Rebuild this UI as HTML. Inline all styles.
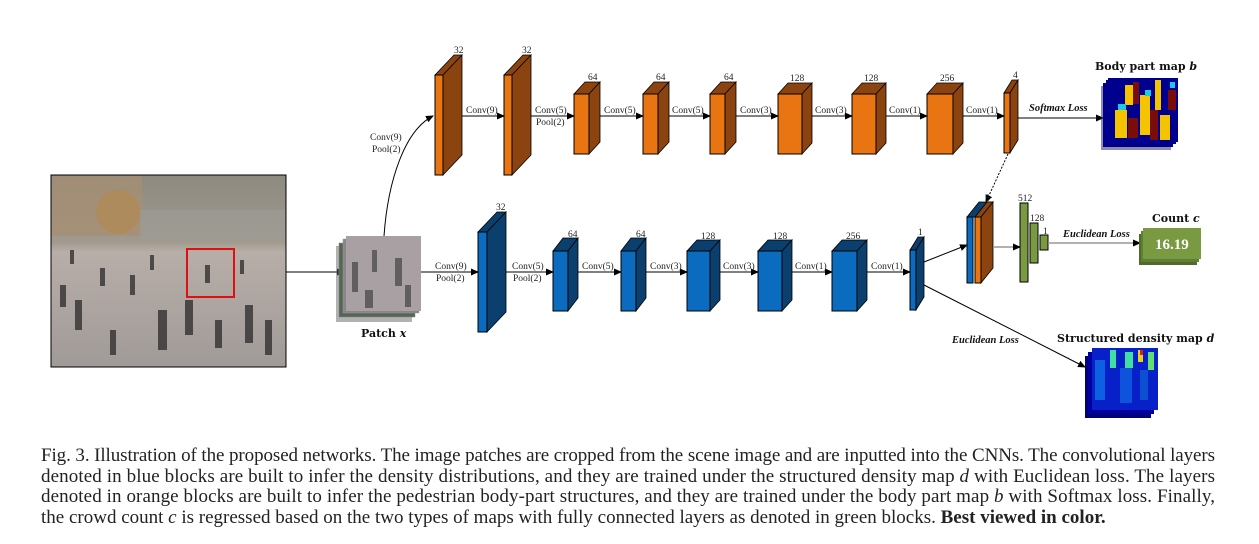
<!DOCTYPE html>
<html><head><meta charset="utf-8"><style>
html,body{margin:0;padding:0;background:#fff;}
svg{display:block;}
.t{font-family:"Liberation Serif",serif;font-size:9.5px;fill:#222;}
.n{font-family:"Liberation Serif",serif;font-size:9.5px;fill:#222;}
.b{font-family:"DejaVu Serif","Liberation Serif",serif;font-weight:bold;font-size:11px;fill:#111;}
.i{font-family:"Liberation Serif",serif;font-weight:bold;font-style:italic;font-size:10.5px;fill:#111;}
.cap{font-family:"Liberation Serif",serif;font-size:19px;fill:#222;}
.of{fill:#E87511;stroke:#000;stroke-width:1}
.od{fill:#8B4410;stroke:#000;stroke-width:0.8}
.bf{fill:#0A6BBF;stroke:#000;stroke-width:1}
.bd{fill:#0A3F6E;stroke:#000;stroke-width:0.8}
.g{fill:#7A9A42;stroke:#000;stroke-width:1}
</style></head><body>
<svg width="1259" height="544" viewBox="0 0 1259 544" xmlns="http://www.w3.org/2000/svg">
<defs>
<marker id="a" markerWidth="8" markerHeight="8" refX="7" refY="4" orient="auto" markerUnits="userSpaceOnUse"><path d="M0,0.5 L8,4 L0,7.5 Z" fill="#000"/></marker>
<linearGradient id="scene" x1="0" y1="0" x2="0" y2="1"><stop offset="0" stop-color="#8d8a80"/><stop offset="0.35" stop-color="#a19a8e"/><stop offset="0.4" stop-color="#b8aea8"/><stop offset="1" stop-color="#a09a98"/></linearGradient>
</defs>

<rect x="51" y="175" width="235" height="192" fill="url(#scene)" stroke="#000"/>
<rect x="52" y="176" width="90" height="60" fill="#a88f70" opacity="0.7"/>
<circle cx="118" cy="212" r="22" fill="#b08a55" opacity="0.8"/>
<rect x="140" y="210" width="145" height="30" fill="#9c9c98" opacity="0.6"/>
<g fill="#2a2a2a" opacity="0.75">
<rect x="60" y="285" width="6" height="22"/><rect x="75" y="300" width="7" height="30"/><rect x="100" y="268" width="5" height="18"/><rect x="130" y="275" width="5" height="20"/><rect x="158" y="310" width="9" height="40"/><rect x="185" y="300" width="8" height="35"/><rect x="215" y="320" width="7" height="28"/><rect x="245" y="305" width="8" height="38"/><rect x="265" y="320" width="7" height="35"/><rect x="70" y="250" width="4" height="14"/><rect x="150" y="255" width="4" height="15"/><rect x="205" y="265" width="5" height="18"/><rect x="240" y="260" width="4" height="14"/><rect x="110" y="330" width="6" height="25"/>
</g>
<rect x="187" y="249" width="47" height="48" fill="none" stroke="#e01010" stroke-width="2"/>
<line x1="286" y1="272" x2="344" y2="272" stroke="#000" marker-end="url(#a)"/>

<rect x="336" y="246" width="76" height="76" fill="#666" opacity="0.5"/>
<rect x="339" y="243" width="76" height="74" fill="#556655" stroke="#888" stroke-width="0.5"/>
<rect x="343" y="239" width="76" height="74" fill="#8a8588" stroke="#999" stroke-width="0.5"/>
<rect x="346" y="236" width="75" height="75" fill="#a8a0a2"/>
<g fill="#333" opacity="0.6"><rect x="352" y="262" width="6" height="30"/><rect x="372" y="250" width="5" height="22"/><rect x="395" y="258" width="7" height="28"/><rect x="365" y="290" width="8" height="18"/><rect x="405" y="285" width="6" height="22"/></g>
<text class="b" x="361" y="337" font-size="11">Patch <tspan font-style="italic">x</tspan></text>
<path d="M384,236 C388,180 405,130 433,116" fill="none" stroke="#000" marker-end="url(#a)"/>
<text class="t" x="370" y="140">Conv(9)</text><text class="t" x="372" y="152">Pool(2)</text>

<g>
<polygon class="od" points="435,75 454,55 462,55 443,75"/><polygon class="od" points="443,75 462,55 462,155 443,175"/><rect class="of" x="435" y="75" width="8" height="100"/>
<polygon class="od" points="504,75 523,55 531,55 512,75"/><polygon class="od" points="512,75 531,55 531,155 512,175"/><rect class="of" x="504" y="75" width="8" height="100"/>
<polygon class="od" points="574,94 585,82 600,82 589,94"/><polygon class="od" points="589,94 600,82 600,142 589,154"/><rect class="of" x="574" y="94" width="15" height="60"/>
<polygon class="od" points="643,94 654,82 669,82 658,94"/><polygon class="od" points="658,94 669,82 669,142 658,154"/><rect class="of" x="643" y="94" width="15" height="60"/>
<polygon class="od" points="710,94 721,82 736,82 725,94"/><polygon class="od" points="725,94 736,82 736,142 725,154"/><rect class="of" x="710" y="94" width="15" height="60"/>
<polygon class="od" points="778,94 788,83 812,83 802,94"/><polygon class="od" points="802,94 812,83 812,143 802,154"/><rect class="of" x="778" y="94" width="24" height="60"/>
<polygon class="od" points="852,94 862,83 886,83 876,94"/><polygon class="od" points="876,94 886,83 886,143 876,154"/><rect class="of" x="852" y="94" width="24" height="60"/>
<polygon class="od" points="927,94 937,83 963,83 953,94"/><polygon class="od" points="953,94 963,83 963,143 953,154"/><rect class="of" x="927" y="94" width="26" height="60"/>
<polygon class="od" points="1004,93 1012,80 1018,80 1010,93"/><polygon class="od" points="1010,93 1018,80 1018,140 1010,153"/><rect class="of" x="1004" y="93" width="6" height="60"/>
</g>
<g class="n"><text x="454" y="53">32</text><text x="522" y="53">32</text><text x="588" y="80">64</text><text x="656" y="80">64</text><text x="724" y="80">64</text><text x="790" y="81">128</text><text x="864" y="81">128</text><text x="940" y="81">256</text><text x="1013" y="78">4</text></g>
<g stroke="#000" marker-end="url(#a)">
<line x1="462" y1="116" x2="504" y2="116"/><line x1="531" y1="116" x2="574" y2="116"/><line x1="600" y1="116" x2="643" y2="116"/><line x1="669" y1="116" x2="710" y2="116"/><line x1="736" y1="116" x2="778" y2="116"/><line x1="812" y1="116" x2="852" y2="116"/><line x1="886" y1="116" x2="927" y2="116"/><line x1="963" y1="116" x2="1004" y2="116"/><line x1="1018" y1="118" x2="1103" y2="118"/>
</g>
<g class="t"><text x="466" y="113">Conv(9)</text><text x="535" y="113">Conv(5)</text><text x="536" y="125">Pool(2)</text><text x="604" y="113">Conv(5)</text><text x="672" y="113">Conv(5)</text><text x="740" y="113">Conv(3)</text><text x="815" y="113">Conv(3)</text><text x="889" y="113">Conv(1)</text><text x="966" y="113">Conv(1)</text></g>
<text class="i" x="1029" y="111">Softmax Loss</text>

<rect x="1101" y="86" width="70" height="64" fill="#1a1a6a" opacity="0.5"/>
<rect x="1103" y="83" width="70" height="64" fill="#000088"/>
<rect x="1106" y="80" width="70" height="64" fill="#000090"/>
<rect x="1108" y="78" width="70" height="64" fill="#00008f"/>
<g>
<rect x="1125" y="85" width="8" height="20" fill="#f5c400"/><rect x="1140" y="95" width="10" height="40" fill="#f5c400"/><rect x="1155" y="80" width="6" height="30" fill="#f5c400"/><rect x="1115" y="110" width="12" height="28" fill="#f5c400"/><rect x="1160" y="115" width="10" height="25" fill="#f5c400"/>
<rect x="1133" y="82" width="6" height="22" fill="#7a0c0c"/><rect x="1150" y="110" width="8" height="30" fill="#7a0c0c"/><rect x="1128" y="118" width="10" height="20" fill="#7a0c0c"/><rect x="1168" y="90" width="8" height="20" fill="#7a0c0c"/>
<rect x="1118" y="104" width="8" height="6" fill="#20c8e8"/><rect x="1145" y="90" width="6" height="6" fill="#20c8e8"/><rect x="1170" y="82" width="5" height="6" fill="#20c8e8"/>
</g>
<text class="b" x="1095" y="70">Body part map <tspan font-style="italic">b</tspan></text>

<g>
<polygon class="bd" points="478,232 497,212 506,212 487,232"/><polygon class="bd" points="487,232 506,212 506,312 487,332"/><rect class="bf" x="478" y="232" width="9" height="100"/>
<polygon class="bd" points="553,251 563,238 578,238 568,251"/><polygon class="bd" points="568,251 578,238 578,298 568,311"/><rect class="bf" x="553" y="251" width="15" height="60"/>
<polygon class="bd" points="621,251 631,238 646,238 636,251"/><polygon class="bd" points="636,251 646,238 646,298 636,311"/><rect class="bf" x="621" y="251" width="15" height="60"/>
<polygon class="bd" points="687,251 697,240 720,240 710,251"/><polygon class="bd" points="710,251 720,240 720,300 710,311"/><rect class="bf" x="687" y="251" width="23" height="60"/>
<polygon class="bd" points="758,251 768,240 792,240 782,251"/><polygon class="bd" points="782,251 792,240 792,300 782,311"/><rect class="bf" x="758" y="251" width="24" height="60"/>
<polygon class="bd" points="832,251 842,240 867,240 857,251"/><polygon class="bd" points="857,251 867,240 867,300 857,311"/><rect class="bf" x="832" y="251" width="25" height="60"/>
<polygon class="bd" points="910,250 918,237 924,237 916,250"/><polygon class="bd" points="916,250 924,237 924,297 916,310"/><rect class="bf" x="910" y="250" width="6" height="60"/>
</g>
<g class="n"><text x="496" y="210">32</text><text x="568" y="237">64</text><text x="636" y="237">64</text><text x="701" y="239">128</text><text x="773" y="239">128</text><text x="846" y="239">256</text><text x="918" y="235">1</text></g>
<g stroke="#000" marker-end="url(#a)">
<line x1="421" y1="272" x2="478" y2="272"/><line x1="506" y1="272" x2="553" y2="272"/><line x1="578" y1="272" x2="621" y2="272"/><line x1="646" y1="272" x2="687" y2="272"/><line x1="720" y1="272" x2="758" y2="272"/><line x1="792" y1="272" x2="832" y2="272"/><line x1="867" y1="272" x2="910" y2="272"/>
<line x1="924" y1="262" x2="967" y2="245"/>
<line x1="924" y1="285" x2="1085" y2="367"/>
<line x1="1008" y1="154" x2="986" y2="202" stroke-dasharray="2,1.5"/>
</g>
<g class="t"><text x="435" y="269">Conv(9)</text><text x="436" y="281">Pool(2)</text><text x="512" y="269">Conv(5)</text><text x="513" y="281">Pool(2)</text><text x="582" y="269">Conv(5)</text><text x="650" y="269">Conv(3)</text><text x="723" y="269">Conv(3)</text><text x="795" y="269">Conv(1)</text><text x="871" y="269">Conv(1)</text></g>
<text class="i" x="952" y="343">Euclidean Loss</text>

<polygon class="bd" points="967,217 979,202 993,202 981,217"/>
<polygon class="od" points="975,217 987,202 993,202 981,217"/>
<polygon class="od" points="981,217 993,202 993,268 981,283"/>
<rect class="bf" x="967" y="217" width="6" height="66"/>
<rect class="of" x="975" y="217" width="6" height="66"/>
<text class="n" x="985" y="201">5</text>
<line x1="993" y1="247" x2="1020" y2="247" stroke="#999" stroke-width="1.5" marker-end="url(#a)"/>
<rect class="g" x="1020" y="203" width="8" height="79"/>
<rect class="g" x="1030" y="223" width="8" height="40"/>
<rect class="g" x="1040" y="235" width="8" height="15"/>
<g class="n"><text x="1018" y="201">512</text><text x="1030" y="221">128</text><text x="1043" y="234">1</text></g>
<line x1="1048" y1="243" x2="1140" y2="243" stroke="#999" stroke-width="1.5" marker-end="url(#a)"/>
<text class="i" x="1063" y="237">Euclidean Loss</text>
<text class="b" x="1152" y="222">Count <tspan font-style="italic">c</tspan></text>
<rect x="1139" y="234" width="58" height="31" fill="#4f6a2a"/>
<rect x="1141" y="231" width="58" height="31" fill="#607f34"/>
<rect x="1143" y="228" width="58" height="31" fill="#7a9a42"/>
<text x="1155" y="249" font-family="Liberation Serif,serif" font-weight="bold" font-size="15" fill="#fff">16.19</text>

<rect x="1085" y="356" width="66" height="62" fill="#00007a"/>
<rect x="1088" y="352" width="66" height="62" fill="#0000a0"/>
<rect x="1092" y="348" width="66" height="62" fill="#0820c8"/>
<g>
<rect x="1095" y="360" width="10" height="40" fill="#1070e8" opacity="0.8"/><rect x="1110" y="350" width="6" height="18" fill="#40e0a0"/><rect x="1125" y="352" width="8" height="16" fill="#40e0a0"/><rect x="1138" y="350" width="5" height="12" fill="#e8d020"/><rect x="1140" y="350" width="3" height="5" fill="#e02010"/><rect x="1148" y="352" width="6" height="18" fill="#60e070"/><rect x="1120" y="368" width="12" height="35" fill="#1060e0" opacity="0.8"/><rect x="1140" y="370" width="8" height="30" fill="#0a50d0"/>
</g>
<text class="b" x="1057" y="342">Structured density map <tspan font-style="italic">d</tspan></text>

<text class="cap" x="41" y="461" textLength="1174" lengthAdjust="spacing">Fig. 3.   Illustration of the proposed networks. The image patches are cropped from the scene image and are inputted into the CNNs. The convolutional layers</text>
<text class="cap" x="41" y="482" textLength="1174" lengthAdjust="spacing">denoted in blue blocks are built to infer the density distributions, and they are trained under the structured density map <tspan font-style="italic">d</tspan> with Euclidean loss. The layers</text>
<text class="cap" x="41" y="502" textLength="1174" lengthAdjust="spacing">denoted in orange blocks are built to infer the pedestrian body-part structures, and they are trained under the body part map <tspan font-style="italic">b</tspan> with Softmax loss. Finally,</text>
<text class="cap" x="41" y="523">the crowd count <tspan font-style="italic">c</tspan> is regressed based on the two types of maps with fully connected layers as denoted in green blocks. <tspan font-weight="bold">Best viewed in color.</tspan></text>
</svg>
</body></html>
